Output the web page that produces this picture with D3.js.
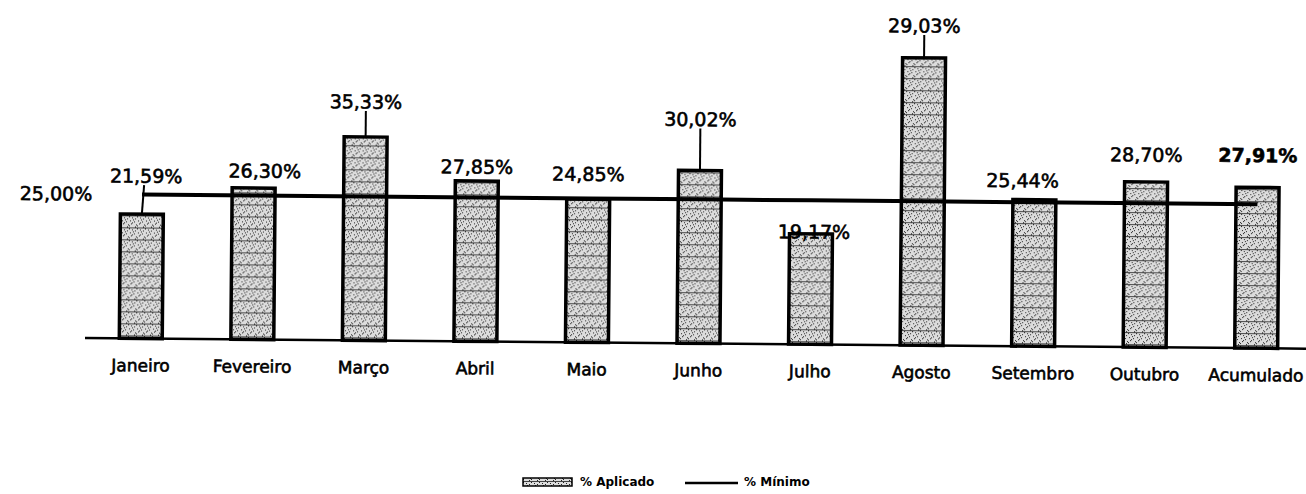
<!DOCTYPE html>
<html>
<head>
<meta charset="utf-8">
<script src="https://cdn.jsdelivr.net/npm/d3@7"></script>
<style>
  body { margin: 0; background: #fff; }
  text { font-family: "DejaVu Sans", sans-serif; fill: #000; }
</style>
</head>
<body>
<svg id="chart" width="1306" height="494"></svg>
<script>
const categories = ['Janeiro', 'Fevereiro', 'Março', 'Abril', 'Maio', 'Junho',
  'Julho', 'Agosto', 'Setembro', 'Outubro', 'Acumulado'];
// bar heights as drawn (Agosto's bar is drawn much taller than its printed label)
const aplicado = [21.59, 26.30, 35.33, 27.85, 24.85, 30.02, 19.17, 49.9, 25.44, 28.70, 27.91];
const aplicadoLabels = ['21,59%', '26,30%', '35,33%', '27,85%', '24,85%', '30,02%',
  '19,17%', '29,03%', '25,44%', '28,70%', '27,91%'];
const minimo = [25, 25, 25, 25, 25, 25, 25, 25, 25, 25, 25];
const minimoLabel = '25,00%';
const legendItems = ['% Aplicado', '% Mínimo'];

// label placement: [dx, distance above bar top, leader line]
const labelNudge = [[4, 38, true], [11, 17, false], [0, 35, true], [0, 14, false],
  [0, 25, false], [0, 51, true], [3, 2, false], [0, 32, true], [-12, 19, false],
  [0, 27, false], [0, 32, false]];

const svg = d3.select('#chart');
const baseY = 338;

const defs = svg.append('defs');
const pat = defs.append('pattern')
  .attr('id', 'stipple')
  .attr('patternUnits', 'userSpaceOnUse')
  .attr('width', 8)
  .attr('height', 12);
pat.append('rect').attr('width', 8).attr('height', 12).style('fill', '#dcdcdc');
[[0, 0], [3, 1], [6, 2], [1, 4], [5, 5], [2, 7], [7, 8], [4, 3], [0, 9], [6, 10], [3, 6]].forEach(([px, py]) => {
  pat.append('rect').attr('x', px).attr('y', py).attr('width', 1).attr('height', 1).style('fill', '#222');
});
pat.append('rect').attr('x', 0).attr('y', 11).attr('width', 8).attr('height', 1).style('fill', '#444');

const x = d3.scaleBand()
  .domain(categories)
  .range([85, 1312])
  .paddingInner(0.615)
  .paddingOuter(0.3075);

const y = d3.scaleLinear()
  .domain([0, 50])
  .range([baseY, baseY - 50 * 5.76]);

// the scan is slightly tilted
const chart = svg.append('g')
  .attr('transform', `rotate(0.5, 85, ${baseY})`);

chart.append('line')
  .attr('x1', 85)
  .attr('x2', 1330)
  .attr('y1', baseY)
  .attr('y2', baseY)
  .style('stroke', '#000')
  .style('stroke-width', 2.5);

chart.selectAll('rect.bar')
  .data(aplicado)
  .enter()
  .append('rect')
  .attr('class', 'bar')
  .attr('x', (d, i) => x(categories[i]))
  .attr('y', (d) => y(d))
  .attr('width', x.bandwidth())
  .attr('height', (d) => baseY - y(d))
  .style('fill', 'url(#stipple)')
  .style('stroke', '#000')
  .style('stroke-width', 3.5);

const line = d3.line()
  .x((d, i) => x(categories[i]) + x.bandwidth() / 2)
  .y((d) => y(d));

chart.append('path')
  .datum(minimo)
  .attr('d', line)
  .style('fill', 'none')
  .style('stroke', '#000')
  .style('stroke-width', 4);

chart.append('text')
  .attr('x', 91)
  .attr('y', y(minimo[0]))
  .attr('dy', '0.35em')
  .style('text-anchor', 'end')
  .style('font-size', '19px')
  .style('stroke', '#000')
  .style('stroke-width', 0.6)
  .text(minimoLabel);

const labels = chart.selectAll('g.dlabel')
  .data(aplicado)
  .enter()
  .append('g')
  .attr('class', 'dlabel');

labels.each(function (d, i) {
  const [dx, gap, leader] = labelNudge[i];
  const cx = x(categories[i]) + x.bandwidth() / 2;
  const g = d3.select(this);
  if (leader) {
    g.append('line')
      .attr('x1', cx + dx * 0.5)
      .attr('x2', cx)
      .attr('y1', y(d) - gap + 9)
      .attr('y2', y(d))
      .style('stroke', '#000')
      .style('stroke-width', 2);
  }
  g.append('text')
    .attr('x', cx + dx)
    .attr('y', y(d) - gap)
    .attr('dy', '0.35em')
    .style('text-anchor', 'middle')
    .style('font-size', '19px')
    .style('font-weight', i === categories.length - 1 ? 'bold' : 'normal')
    .style('stroke', '#000')
    .style('stroke-width', 0.6)
    .text(aplicadoLabels[i]);
});

chart.selectAll('text.cat')
  .data(categories)
  .enter()
  .append('text')
  .attr('class', 'cat')
  .attr('x', (d) => x(d) + x.bandwidth() / 2)
  .attr('y', baseY + 27)
  .attr('dy', '0.35em')
  .style('text-anchor', 'middle')
  .style('font-size', '17px')
  .style('stroke', '#000')
  .style('stroke-width', 0.6)
  .text((d) => d);

// legend
const legend = svg.append('g').attr('transform', 'translate(523, 482)');
legend.append('rect')
  .attr('x', 0)
  .attr('y', -4)
  .attr('width', 49)
  .attr('height', 8)
  .style('fill', 'url(#stipple)')
  .style('stroke', '#000')
  .style('stroke-width', 1.5);
legend.append('text')
  .attr('x', 57)
  .attr('dy', '0.35em')
  .style('font-size', '12px')
  .style('font-weight', 'bold')
  .text(legendItems[0]);
legend.append('line')
  .attr('x1', 162)
  .attr('x2', 215)
  .attr('y1', 1)
  .attr('y2', 1)
  .style('stroke', '#000')
  .style('stroke-width', 2.5);
legend.append('text')
  .attr('x', 221)
  .attr('dy', '0.35em')
  .style('font-size', '12px')
  .style('font-weight', 'bold')
  .text(legendItems[1]);
</script>
</body>
</html>
